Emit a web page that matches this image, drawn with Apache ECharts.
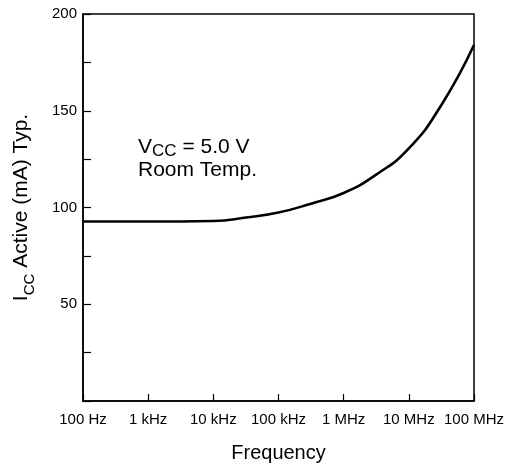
<!DOCTYPE html>
<html>
<head>
<meta charset="utf-8">
<script src="https://cdn.jsdelivr.net/npm/echarts@6/dist/echarts.min.js"></script>
<style>
html,body{margin:0;padding:0;background:#fff;}
#chart{width:525px;height:469px;}
</style>
</head>
<body>
<div id="chart"></div>
<script>
// Data (half-decade samples)
const freqHz = [100, 316, 1000, 3160, 10000, 31600, 100000, 316000, 1e6, 3.16e6, 1e7, 3.16e7, 1e8];
const iccMA  = [92.8, 92.8, 92.8, 92.8, 93.0, 94.8, 97.4, 102, 107.5, 117, 130.5, 153, 184];
const xTickLabels = {100: '100 Hz', 1000: '1 kHz', 10000: '10 kHz', 100000: '100 kHz', 1000000: '1 MHz', 10000000: '10 MHz', 100000000: '100 MHz'};
const yLabeled = [50, 100, 150, 200];

const FONT = 'Liberation Sans, Arial, Helvetica, sans-serif';
const chart = echarts.init(document.getElementById('chart'));
chart.setOption({
  animation: false,
  backgroundColor: '#fff',
  grid: {left: 83, right: 51, top: 14, bottom: 68, show: true, borderColor: '#000', borderWidth: 1.5},
  xAxis: {
    type: 'log', logBase: 10, min: 100, max: 1e8,
    name: 'Frequency', nameLocation: 'middle', nameGap: 42,
    nameTextStyle: {fontFamily: FONT, fontSize: 20, color: '#000'},
    axisLine: {lineStyle: {color: '#000', width: 1.5}},
    axisTick: {inside: true, length: 7, lineStyle: {color: '#000', width: 1.2}},
    minorTick: {show: false},
    splitLine: {show: false},
    axisLabel: {
      fontFamily: FONT, fontSize: 15, color: '#000', margin: 11,
      formatter: v => xTickLabels[Math.round(v)] || ''
    }
  },
  yAxis: {
    type: 'value', min: 0, max: 200, interval: 25,
    name: '{a|I}{s|CC}{a| Active (mA) Typ.}', nameLocation: 'middle', nameGap: 46,
    nameTextStyle: {
      color: '#000',
      rich: {
        a: {fontFamily: FONT, fontSize: 21, color: '#000', lineHeight: 26, verticalAlign: 'middle'},
        s: {fontFamily: FONT, fontSize: 15, color: '#000', lineHeight: 32, verticalAlign: 'bottom'}
      }
    },
    axisLine: {lineStyle: {color: '#000', width: 1.5}},
    axisTick: {inside: true, length: 8, lineStyle: {color: '#000', width: 1.2}},
    splitLine: {show: false},
    axisLabel: {
      fontFamily: FONT, fontSize: 15, color: '#000', margin: 6,
      formatter: v => yLabeled.indexOf(v) >= 0 ? String(v) : ''
    }
  },
  series: [{
    type: 'line',
    data: freqHz.map((f, i) => [f, iccMA[i]]),
    showSymbol: false,
    smooth: 0.5,
    lineStyle: {color: '#000', width: 2.6},
    clip: true
  }],
  graphic: [{
    type: 'text',
    left: 138, top: 137,
    style: {
      text: '{a|V}{s|CC}{a| = 5.0 V}\n{a|Room Temp.}',
      fill: '#000',
      rich: {
        a: {fontFamily: FONT, fontSize: 21, fill: '#000', lineHeight: 20, verticalAlign: 'middle'},
        s: {fontFamily: FONT, fontSize: 17, fill: '#000', lineHeight: 25, verticalAlign: 'bottom'}
      }
    }
  }]
});
</script>
</body>
</html>
